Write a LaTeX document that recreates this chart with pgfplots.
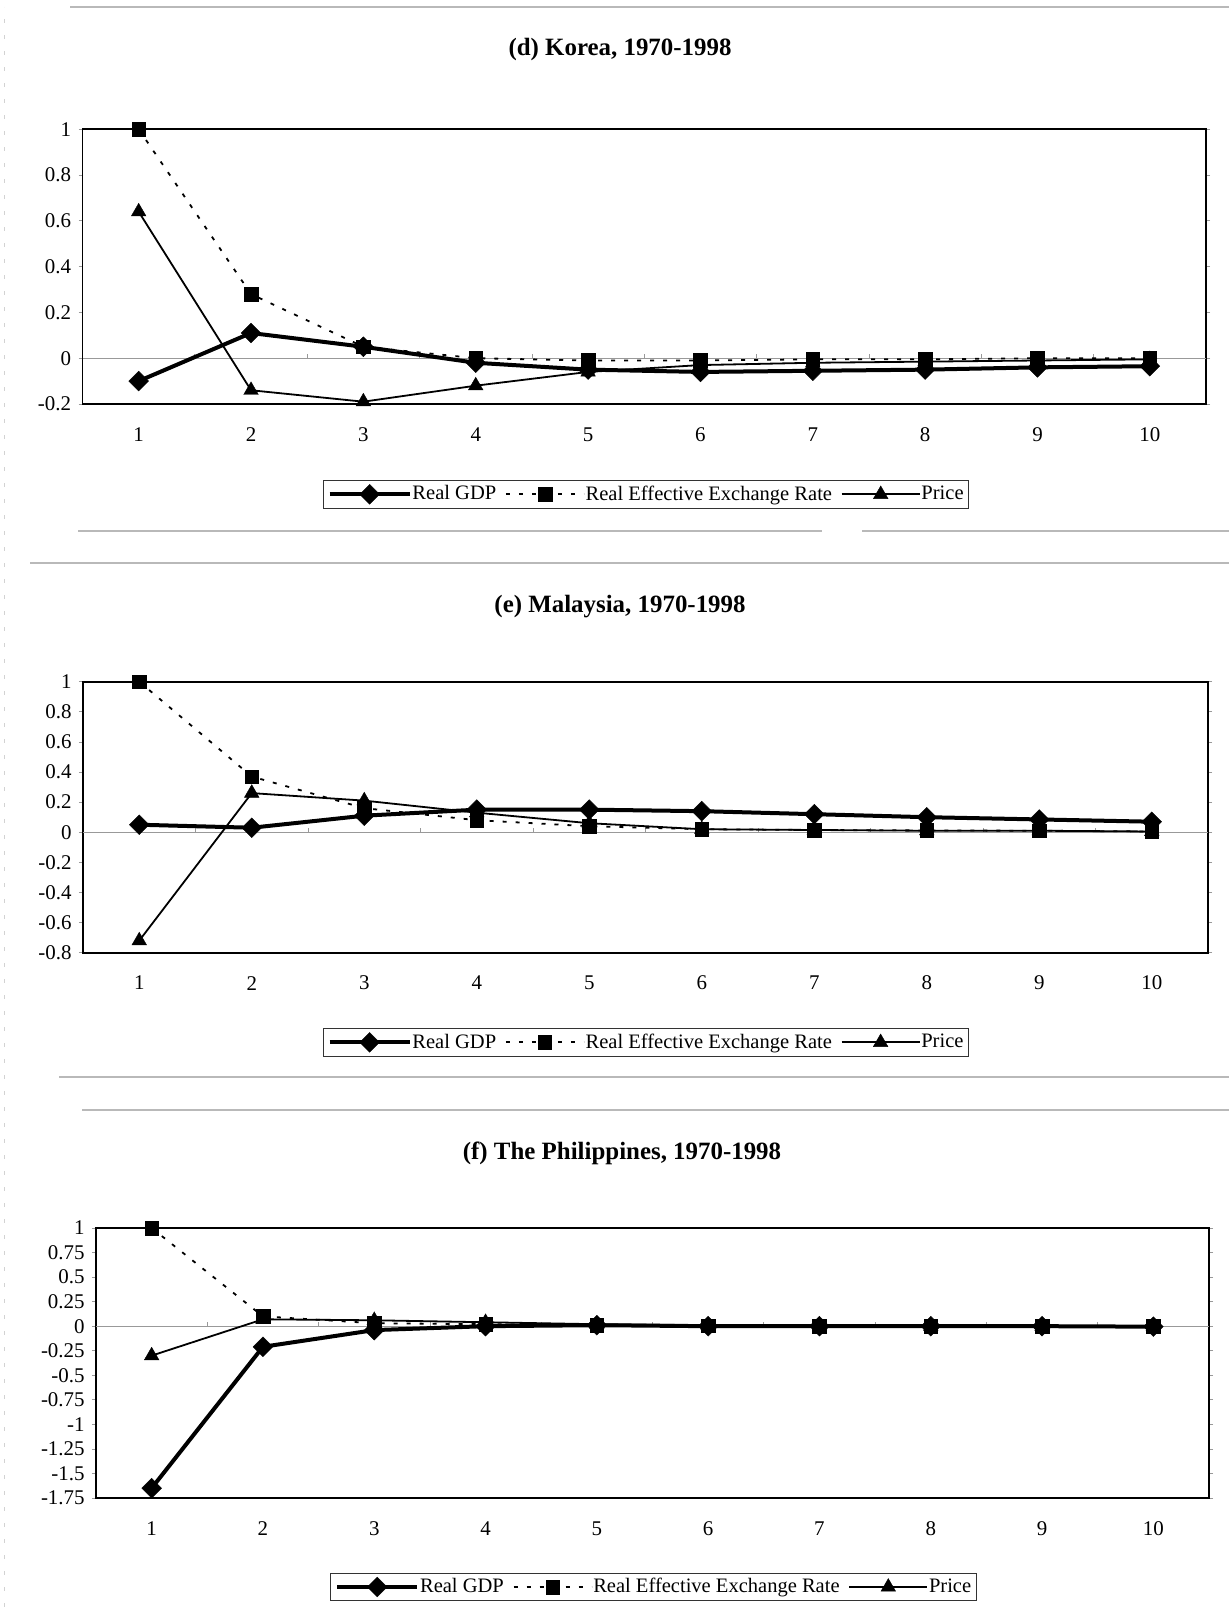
\documentclass[border=0pt]{standalone}
\usepackage{fontspec}
\setmainfont{Liberation Serif}
\usepackage{pgfplots}
\pgfplotsset{compat=1.18}
\begin{document}
\begin{tikzpicture}
\pgfplotsset{
  irf/.style={
    scale only axis, anchor=south west, clip=false,
    xmin=0.5, xmax=10.5,
    xtick={1,2,3,4,5,6,7,8,9,10},
    xtick style={draw=none},
    xticklabel style={anchor=center, yshift=-13.2bp, inner sep=0pt},
    tick label style={font=\fontsize{10.5}{12}\selectfont},
    ytick style={draw=gray!80, line width=0.4bp},
    tick align=outside,
    major tick length=2bp,
    yticklabel style={anchor=east, inner sep=0pt, xshift=-3.5bp},
    axis line style={line width=0.9bp},
    legend columns=3,
    legend style={anchor=center, draw=black!80, line width=0.5bp,
      font=\fontsize{10.3}{12}\selectfont, inner xsep=2.2bp, inner ysep=1.5bp,
      nodes={inner xsep=0.4bp, inner ysep=1bp},
      /tikz/every even column/.append style={column sep=4bp}},
    /pgf/number format/assume math mode=true,
  },
  gdp/.style={black, line width=2bp, mark=square*, mark size=3.5bp,
    mark options={solid, rotate=45, line width=0.2bp},
    legend image code/.code={\draw[mark repeat=2,mark phase=2] plot coordinates {(0bp,0bp)(20bp,0bp)(40bp,0bp)};}},
  reer/.style={black, line width=0.9bp, dash pattern=on 2bp off 4.5bp, mark=square*, mark size=3.4bp,
    mark options={solid, line width=0.2bp},
    legend image code/.code={\draw[mark repeat=2,mark phase=2] plot coordinates {(0bp,0bp)(19.5bp,0bp)(39bp,0bp)};}},
  price/.style={black, line width=0.9bp, mark=triangle*, mark size=4.2bp,
    mark options={solid, line width=0.2bp},
    legend image code/.code={\draw[mark repeat=2,mark phase=2] plot coordinates {(0bp,0bp)(19.5bp,0bp)(39bp,0bp)};}},
}
\useasboundingbox (0,0) rectangle (614.5bp,808.5bp);
% scan frame rules
\draw[gray!55, line width=0.7bp] (35bp,805bp) -- (614.5bp,805bp);
\draw[gray!55, line width=0.7bp] (39bp,543bp) -- (411bp,543bp);
\draw[gray!55, line width=0.7bp] (431bp,543bp) -- (614.5bp,543bp);
\draw[gray!55, line width=0.7bp] (15bp,527bp) -- (614.5bp,527bp);
\draw[gray!55, line width=0.7bp] (29.5bp,270bp) -- (614.5bp,270bp);
\draw[gray!55, line width=0.7bp] (41bp,253.5bp) -- (614.5bp,253.5bp);
\draw[gray!35, line width=0.5bp, dash pattern=on 2bp off 6bp] (2bp,5bp) -- (2bp,805bp);
% titles
\node[font=\bfseries\fontsize{12.5}{15}\selectfont] at (310bp,783.5bp) {(d) Korea, 1970-1998};
\node[font=\bfseries\fontsize{12.5}{15}\selectfont] at (310bp,505bp) {(e) Malaysia, 1970-1998};
\node[font=\bfseries\fontsize{12.5}{15}\selectfont] at (311bp,232bp) {(f) The Philippines, 1970-1998};

% (d) Korea
\begin{axis}[irf, at={(41.25bp,606.5bp)}, width=561.75bp, height=137.35bp,
  ymin=-0.2, ymax=1,
  ytick={-0.2,0,0.2,0.4,0.6,0.8,1}, yticklabels={-0.2,0,0.2,0.4,0.6,0.8,1},
  legend style={at={(0.5016,-0.329)}}]
\draw[gray!80, line width=0.5bp] (axis cs:0.5,0) -- (axis cs:10.5,0);
\pgfplotsinvokeforeach{1.5,2.5,3.5,4.5,5.5,6.5,7.5,8.5,9.5}{\draw[gray!80, line width=0.4bp] (axis cs:#1,0) -- ++(0pt,2bp);}
\addplot[gdp] coordinates {(1,-0.10)(2,0.11)(3,0.05)(4,-0.02)(5,-0.05)(6,-0.06)(7,-0.055)(8,-0.05)(9,-0.04)(10,-0.035)};
\addplot[reer] coordinates {(1,1.00)(2,0.28)(3,0.05)(4,0.00)(5,-0.01)(6,-0.01)(7,-0.005)(8,-0.005)(9,0.0)(10,0.0)};
\addplot[price] coordinates {(1,0.64)(2,-0.14)(3,-0.19)(4,-0.12)(5,-0.06)(6,-0.03)(7,-0.02)(8,-0.015)(9,-0.01)(10,-0.005)};
\legend{Real GDP, Real Effective Exchange Rate, Price}
\end{axis}

% (e) Malaysia
\begin{axis}[irf, at={(41.5bp,332.15bp)}, width=562.5bp, height=135.5bp,
  ymin=-0.8, ymax=1,
  ytick={-0.8,-0.6,-0.4,-0.2,0,0.2,0.4,0.6,0.8,1}, yticklabels={-0.8,-0.6,-0.4,-0.2,0,0.2,0.4,0.6,0.8,1},
  legend style={at={(0.5004,-0.331)}}]
\draw[gray!80, line width=0.5bp] (axis cs:0.5,0) -- (axis cs:10.5,0);
\pgfplotsinvokeforeach{1.5,2.5,3.5,4.5,5.5,6.5,7.5,8.5,9.5}{\draw[gray!80, line width=0.4bp] (axis cs:#1,0) -- ++(0pt,2bp);}
\addplot[gdp] coordinates {(1,0.05)(2,0.03)(3,0.11)(4,0.15)(5,0.15)(6,0.14)(7,0.12)(8,0.10)(9,0.085)(10,0.07)};
\addplot[reer] coordinates {(1,1.00)(2,0.37)(3,0.16)(4,0.08)(5,0.04)(6,0.02)(7,0.015)(8,0.012)(9,0.01)(10,0.005)};
\addplot[price] coordinates {(1,-0.72)(2,0.26)(3,0.21)(4,0.13)(5,0.06)(6,0.02)(7,0.015)(8,0.01)(9,0.01)(10,0.005)};
\legend{Real GDP, Real Effective Exchange Rate, Price}
\end{axis}

% (f) The Philippines
\begin{axis}[irf, at={(48bp,59.5bp)}, width=556.5bp, height=135bp,
  ymin=-1.75, ymax=1,
  ytick={-1.75,-1.5,-1.25,-1,-0.75,-0.5,-0.25,0,0.25,0.5,0.75,1},
  yticklabels={-1.75,-1.5,-1.25,-1,-0.75,-0.5,-0.25,0,0.25,0.5,0.75,1},
  legend style={at={(0.501,-0.3296)}}]
\draw[gray!80, line width=0.5bp] (axis cs:0.5,0) -- (axis cs:10.5,0);
\pgfplotsinvokeforeach{1.5,2.5,3.5,4.5,5.5,6.5,7.5,8.5,9.5}{\draw[gray!80, line width=0.4bp] (axis cs:#1,0) -- ++(0pt,2bp);}
\addplot[gdp] coordinates {(1,-1.65)(2,-0.21)(3,-0.04)(4,0.0)(5,0.01)(6,0.0)(7,0.0)(8,0.0)(9,0.0)(10,-0.005)};
\addplot[reer] coordinates {(1,1.00)(2,0.10)(3,0.03)(4,0.02)(5,0.01)(6,0.005)(7,0.0)(8,0.0)(9,0.0)(10,0.0)};
\addplot[price] coordinates {(1,-0.30)(2,0.07)(3,0.06)(4,0.04)(5,0.02)(6,0.01)(7,0.005)(8,0.0)(9,0.0)(10,0.0)};
\legend{Real GDP, Real Effective Exchange Rate, Price}
\end{axis}
\end{tikzpicture}
\end{document}
